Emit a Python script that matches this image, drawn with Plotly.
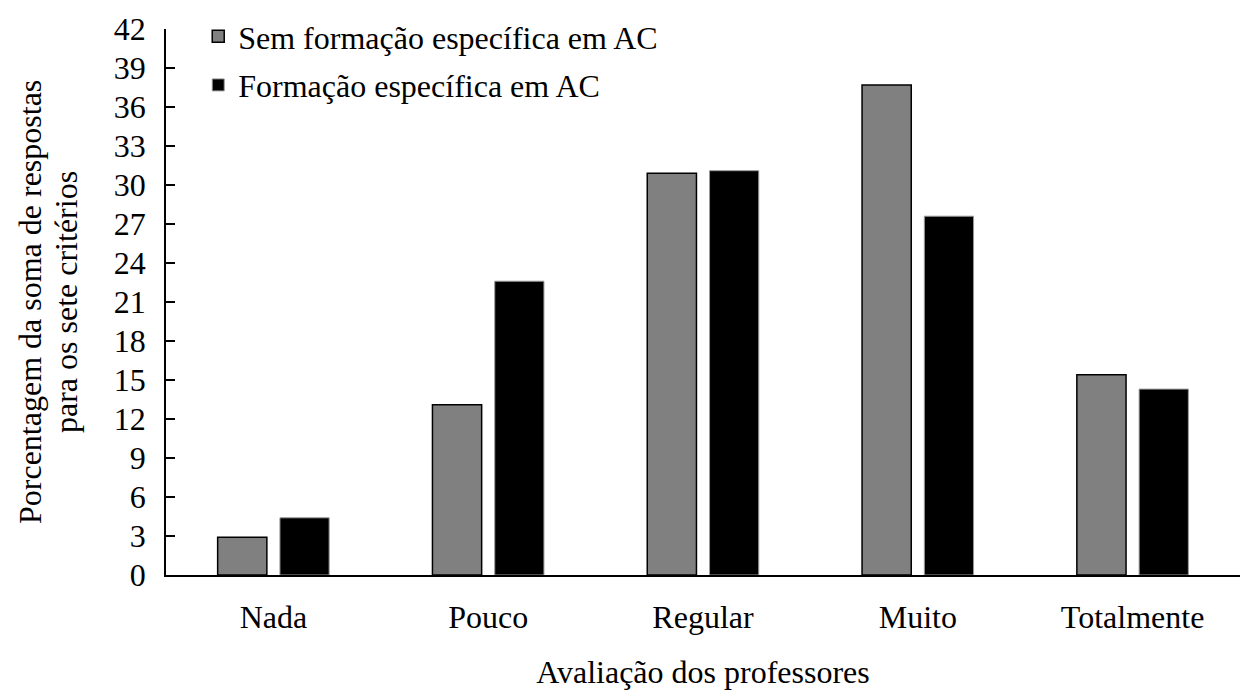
import plotly.graph_objects as go

categorias = ["Nada", "Pouco", "Regular", "Muito", "Totalmente"]
sem_formacao = [2.9, 13.1, 30.9, 37.7, 15.4]
com_formacao = [4.4, 22.6, 31.1, 27.6, 14.3]
ticks_y = list(range(0, 43, 3))
titulo_y = ["Porcentagem da soma de respostas", "para os sete critérios"]

FONT = "Liberation Serif"
SIZE = 32

fig = go.Figure()
fig.add_trace(go.Bar(
    x=categorias, y=sem_formacao, name="Sem formação específica em AC",
    marker=dict(color="#808080", line=dict(color="#000000", width=1.5)),
    legendgroup="a",
))
fig.add_trace(go.Bar(
    x=categorias, y=com_formacao, name="Formação específica em AC",
    marker=dict(color="#000000", line=dict(color="#9a9a9a", width=1)),
    legendgroup="b",
))

# two-line vertical axis title, one annotation per line
for texto, xpx in zip(titulo_y, (30, 66)):
    fig.add_annotation(
        text=texto, textangle=-90, showarrow=False,
        xref="paper", yref="paper", x=(xpx - 166) / 1074, y=0.5,
        xanchor="center", yanchor="middle",
        font=dict(family=FONT, size=SIZE, color="black"),
    )

fig.update_layout(
    width=1254, height=699,
    margin=dict(l=166, r=14, t=29, b=124, autoexpand=False),
    paper_bgcolor="white", plot_bgcolor="white",
    font=dict(family=FONT, size=SIZE, color="black"),
    barmode="group", bargap=0.42, bargroupgap=0.21,
    showlegend=True,
    legend=dict(
        x=0.03, xanchor="left",
        y=1 + 20 / 546, yanchor="top",
        bgcolor="rgba(0,0,0,0)", font=dict(family=FONT, size=SIZE),
        traceorder="grouped", tracegroupgap=4, itemwidth=30,
    ),
    xaxis=dict(
        showline=True, linecolor="black", linewidth=1.5,
        ticks="outside", ticklen=13, tickcolor="rgba(0,0,0,0)",
        tickfont=dict(family=FONT, size=SIZE),
        title=dict(text="Avaliação dos professores", standoff=26,
                   font=dict(family=FONT, size=SIZE)),
        showgrid=False, zeroline=False,
    ),
    yaxis=dict(
        range=[0, 42], tickvals=ticks_y, showline=True, linecolor="black",
        linewidth=1.5, ticks="inside", ticklen=9, tickwidth=1.5, tickcolor="black",
        ticklabelstandoff=12,
        tickfont=dict(family=FONT, size=SIZE),
        showgrid=False, zeroline=False,
    ),
)

fig.write_html("out.html")
